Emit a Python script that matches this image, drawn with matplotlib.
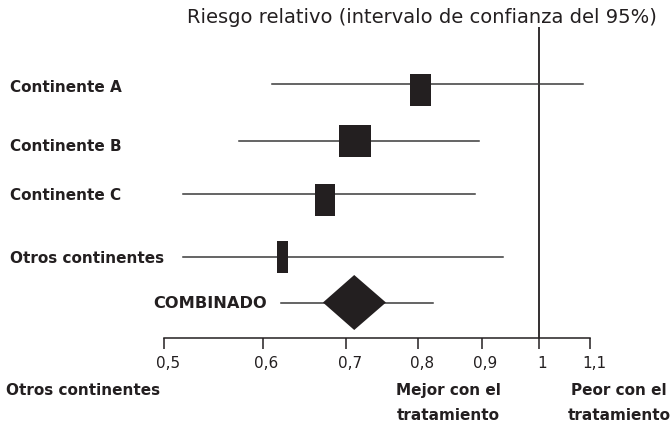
import matplotlib
matplotlib.use("Agg")
import matplotlib.pyplot as plt
from matplotlib.patches import Rectangle, Polygon
from matplotlib.ticker import FixedLocator, NullLocator
from matplotlib.transforms import blended_transform_factory, ScaledTranslation

# Data (relative risk, 95% CI)
labels = ["Continente A", "Continente B", "Continente C", "Otros continentes"]
ci_low = [0.611, 0.574, 0.518, 0.518]
ci_high = [1.085, 0.895, 0.889, 0.936]
box_low = [0.788, 0.691, 0.661, 0.616]
box_high = [0.820, 0.733, 0.686, 0.629]

comb_label = "COMBINADO"
comb_ci = [0.621, 0.823]
comb_box = [0.671, 0.711, 0.754]

tick_vals = [0.5, 0.6, 0.7, 0.8, 0.9, 1.0, 1.1]
tick_labels = ["0,5", "0,6", "0,7", "0,8", "0,9", "1", "1,1"]

# layout (pixel rows, y grows downward)
line_y = [84, 141, 194, 257]
box_y = [90, 140.5, 200, 257]
label_base = [91.7, 150.7, 200, 263.3]
comb_y = 302.5
comb_base = 308.3

dark = "#231f20"
plt.rcParams["font.family"] = "DejaVu Sans"

fig = plt.figure(figsize=(6.71, 4.22), dpi=100)
ax = fig.add_axes([164/671, 1-337.5/422, (590-164)/671, (337.5-27)/422])
ax.set_xscale("log")
ax.set_xlim(0.5, 1.1)
ax.set_ylim(337.5, 27)

ax.axvline(1.0, color=dark, lw=1.3, zorder=1)

for i in range(len(labels)):
    ax.plot([ci_low[i], ci_high[i]], [line_y[i], line_y[i]], color="#3a3a3a", lw=1.1, zorder=2)
    ax.add_patch(Rectangle((box_low[i], box_y[i]-16), box_high[i]-box_low[i], 32,
                           facecolor=dark, edgecolor="none", zorder=3))

ax.plot(comb_ci, [comb_y, comb_y], color="#3a3a3a", lw=1.1, zorder=2)
ax.add_patch(Polygon([(comb_box[0], comb_y), (comb_box[1], comb_y-27.5),
                      (comb_box[2], comb_y), (comb_box[1], comb_y+27.5)],
                     closed=True, facecolor=dark, edgecolor="none", zorder=3))

for s in ["top", "left", "right"]:
    ax.spines[s].set_visible(False)
ax.spines["bottom"].set_color(dark)
ax.spines["bottom"].set_linewidth(1.1)
ax.xaxis.set_major_locator(FixedLocator(tick_vals))
ax.xaxis.set_minor_locator(NullLocator())
ax.set_xticklabels(tick_labels)
ax.tick_params(axis="x", direction="out", length=8, width=1.1, color=dark,
               labelsize=11, labelcolor=dark, pad=5)
ax.set_yticks([])
shift = ScaledTranslation(4/100, 0, fig.dpi_scale_trans)
for t in ax.get_xticklabels():
    t.set_transform(t.get_transform() + shift)

trans = blended_transform_factory(fig.transFigure, ax.transData)
for i, lab in enumerate(labels):
    ax.text(10/671, label_base[i], lab, transform=trans, ha="left", va="baseline",
            fontsize=11, fontweight="bold", color=dark)
ax.text(267/671, comb_base, comb_label, transform=trans, ha="right", va="baseline",
        fontsize=11.7, fontweight="bold", color=dark)

fig.text(422/671, 1-23.3/422, "Riesgo relativo (intervalo de confianza del 95%)",
         ha="center", va="baseline", fontsize=14, color=dark)

fig.text(6/671, 1-395/422, "Otros continentes", ha="left", va="baseline",
         fontsize=11, fontweight="bold", color=dark)
for cx, l1 in [(448.7, "Mejor con el"), (619, "Peor con el")]:
    fig.text(cx/671, 1-395/422, l1, ha="center", va="baseline",
             fontsize=11, fontweight="bold", color=dark)
    fig.text(cx/671, 1-420/422, "tratamiento", ha="center", va="baseline",
             fontsize=11, fontweight="bold", color=dark)

fig.savefig("out.png", dpi=100)
